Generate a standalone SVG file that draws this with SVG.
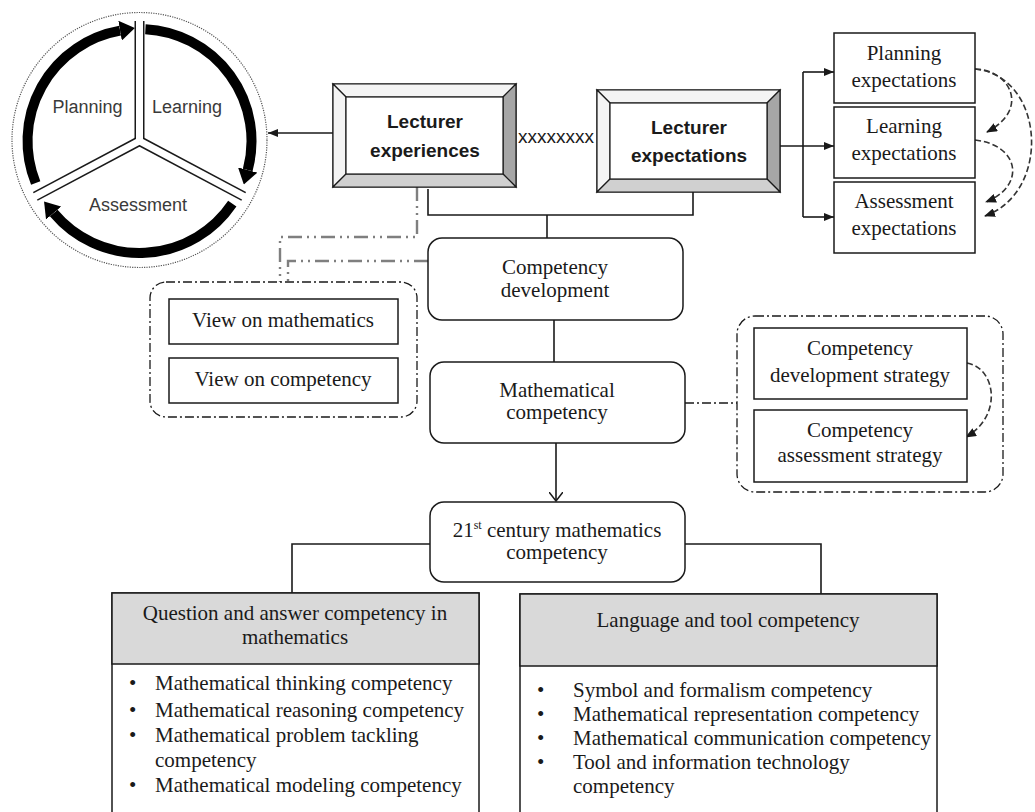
<svg xmlns="http://www.w3.org/2000/svg" width="1035" height="812" viewBox="0 0 1035 812">
<style>
.serif{font-family:"Liberation Serif","Times New Roman",serif;font-size:21px;fill:#1a1a1a;text-anchor:middle}
.lserif{font-family:"Liberation Serif","Times New Roman",serif;font-size:21px;fill:#1a1a1a}
.sans{font-family:"Liberation Sans",Arial,sans-serif;font-size:18px;fill:#3a3a3a;text-anchor:middle}
.bold{font-family:"Liberation Sans",Arial,sans-serif;font-size:19px;font-weight:bold;fill:#1a1a1a;text-anchor:middle}
.box{fill:#fff;stroke:#1a1a1a;stroke-width:1.5}
.rbox{fill:#fff;stroke:#1a1a1a;stroke-width:1.5}
.hdr{fill:#d9d9d9;stroke:#1a1a1a;stroke-width:1.5}
.line{fill:none;stroke:#1a1a1a;stroke-width:1.6}
.dash{fill:none;stroke:#333;stroke-width:1.6;stroke-dasharray:6,3}
.dd{fill:none;stroke:#1a1a1a;stroke-width:1.3;stroke-dasharray:9,3,2,3}
.gdd{fill:none;stroke:#7f7f7f;stroke-width:2.4;stroke-dasharray:14,5,2,5,2,5}
.arc{fill:none;stroke:#000;stroke-width:10}
.bev{stroke:#1a1a1a;stroke-width:1.2}
</style>
<defs>
<marker id="ah" viewBox="0 0 10 8" refX="10" refY="4" markerWidth="10" markerHeight="8" orient="auto" markerUnits="userSpaceOnUse"><path d="M0,0 L10,4 L0,8 z" fill="#1a1a1a"/></marker>
<marker id="ahd" viewBox="0 0 11 9" refX="10" refY="4.5" markerWidth="11" markerHeight="9" orient="auto" markerUnits="userSpaceOnUse"><path d="M0,0 L11,4.5 L0,9 z" fill="#1a1a1a"/></marker>
<marker id="big" viewBox="0 0 15 20" refX="0" refY="10" markerWidth="15" markerHeight="20" orient="auto" markerUnits="userSpaceOnUse"><path d="M0,0 L15,10 L0,20 z" fill="#000"/></marker>
<marker id="open" viewBox="0 0 10 14" refX="9" refY="7" markerWidth="10" markerHeight="14" orient="auto" markerUnits="userSpaceOnUse"><path d="M0,0 L9,7 L0,14" fill="none" stroke="#1a1a1a" stroke-width="1.5"/></marker>
</defs>

<g id="cycle">
<circle cx="139.5" cy="140" r="127.5" fill="none" stroke="#555" stroke-width="1.2" stroke-dasharray="1.2,1.2"/>
<path class="arc" d="M35.7,183 A112,112 0 0 1 120.1,30.7" marker-end="url(#big)"/>
<path class="arc" d="M145.4,29.2 A112,112 0 0 1 247.7,170" marker-end="url(#big)"/>
<path class="arc" d="M232.3,203.6 A112,112 0 0 1 53.7,213" marker-end="url(#big)"/>
<g stroke="#1a1a1a" stroke-width="10" fill="none">
<path d="M139.5,141 V21"/><path d="M139.5,141 L243.7,196.4"/><path d="M139.5,141 L35.3,196.4"/>
</g>
<g stroke="#fff" stroke-width="7" fill="none">
<path d="M139.5,141 V18"/><path d="M139.5,141 L246,197.6"/><path d="M139.5,141 L33,197.6"/>
</g>
<text class="sans" x="87.5" y="113">Planning</text>
<text class="sans" x="187" y="113">Learning</text>
<text class="sans" x="138" y="211">Assessment</text>
</g>

<g id="connectors">
<path class="line" d="M333,133 H268" marker-end="url(#ah)"/>
<path class="line" d="M428,189 V215 H693 V192"/>
<path class="line" d="M547,215 V238" stroke-width="2.4"/>
<path class="line" d="M554,320 V362"/>
<path class="line" d="M556,443 V501" marker-end="url(#open)"/>
<path class="line" d="M430,544 H292 V593"/>
<path class="line" d="M685,544 H821 V594"/>
<path class="line" d="M780,146 H834" marker-end="url(#ah)"/>
<path class="line" d="M803,72 V217"/>
<path class="line" d="M803,72 H834" marker-end="url(#ah)"/>
<path class="line" d="M803,217 H834" marker-end="url(#ah)"/>
<path class="dash" d="M975,69 C1008,69 1032,108 987,132" marker-end="url(#ahd)"/>
<path class="dash" d="M975,69 C1045,76 1052,192 985,216" marker-end="url(#ahd)"/>
<path class="dash" d="M975,140 C1020,145 1026,186 986,202" marker-end="url(#ahd)"/>
<path class="dash" d="M967,363 C996,368 1003,416 966,437" marker-end="url(#ahd)"/>
<path class="gdd" d="M417,187 V237 H280 V282"/>
<path class="gdd" d="M428,261 H288 V282"/>
<path class="dd" d="M685,403 H737"/>
<text class="sans" x="556" y="143" style="font-size:19px;fill:#1a1a1a">xxxxxxxx</text>
</g>

<g id="lecturer-experiences">
<rect x="333" y="84" width="183" height="103" fill="#fff" class="bev"/>
<polygon class="bev" fill="#f4f4f4" points="333,84 516,84 503,97 346,97"/>
<polygon class="bev" fill="#f4f4f4" points="333,84 346,97 346,174 333,187"/>
<polygon class="bev" fill="#a6a6a6" points="516,84 516,187 503,174 503,97"/>
<polygon class="bev" fill="#d0d0d0" points="333,187 516,187 503,174 346,174"/>
<rect x="346" y="97" width="157" height="77" fill="#fff" class="bev"/>
<text class="bold" x="425" y="128">Lecturer</text>
<text class="bold" x="425" y="157">experiences</text>
</g>

<g id="lecturer-expectations">
<rect x="597" y="90" width="183" height="102" fill="#fff" class="bev"/>
<polygon class="bev" fill="#f4f4f4" points="597,90 780,90 767,103 610,103"/>
<polygon class="bev" fill="#f4f4f4" points="597,90 610,103 610,179 597,192"/>
<polygon class="bev" fill="#a6a6a6" points="780,90 780,192 767,179 767,103"/>
<polygon class="bev" fill="#d0d0d0" points="597,192 780,192 767,179 610,179"/>
<rect x="610" y="103" width="157" height="76" fill="#fff" class="bev"/>
<text class="bold" x="689" y="134">Lecturer</text>
<text class="bold" x="689" y="162">expectations</text>
</g>

<g id="planning-expectations">
<rect class="box" x="834" y="33" width="141" height="70"/>
<text class="serif" x="904" y="60">Planning</text>
<text class="serif" x="904" y="87">expectations</text>
</g>
<g id="learning-expectations">
<rect class="box" x="834" y="107" width="141" height="71"/>
<text class="serif" x="904" y="133">Learning</text>
<text class="serif" x="904" y="160">expectations</text>
</g>
<g id="assessment-expectations">
<rect class="box" x="834" y="182" width="141" height="71"/>
<text class="serif" x="904" y="208">Assessment</text>
<text class="serif" x="904" y="235">expectations</text>
</g>

<g id="views-group">
<rect class="dd" x="150" y="282" width="267" height="135" rx="16"/>
<rect class="box" x="169" y="299" width="229" height="45"/>
<text class="serif" x="283" y="327">View on mathematics</text>
<rect class="box" x="169" y="358" width="229" height="45"/>
<text class="serif" x="283" y="386">View on competency</text>
</g>

<g id="competency-development">
<rect class="rbox" x="428" y="238" width="255" height="82" rx="14"/>
<text class="serif" x="555" y="274">Competency</text>
<text class="serif" x="555" y="297">development</text>
</g>

<g id="mathematical-competency">
<rect class="rbox" x="430" y="362" width="255" height="81" rx="14"/>
<text class="serif" x="557" y="397">Mathematical</text>
<text class="serif" x="557" y="419">competency</text>
</g>

<g id="strategy-group">
<rect class="dd" x="737" y="316" width="266" height="176" rx="18"/>
<rect class="box" x="754" y="328" width="213" height="71"/>
<text class="serif" x="860" y="355">Competency</text>
<text class="serif" x="860" y="382">development strategy</text>
<rect class="box" x="754" y="410" width="213" height="72"/>
<text class="serif" x="860" y="437">Competency</text>
<text class="serif" x="860" y="462">assessment strategy</text>
</g>

<g id="century-competency">
<rect class="rbox" x="430" y="502" width="255" height="80" rx="14"/>
<text class="serif" x="557" y="537">21<tspan font-size="12" dy="-8">st</tspan><tspan dy="8"> century mathematics</tspan></text>
<text class="serif" x="557" y="559">competency</text>
</g>

<g id="question-answer">
<rect class="box" x="112" y="593" width="367" height="225"/>
<rect class="hdr" x="112" y="593" width="367" height="71"/>
<text class="serif" x="295" y="620">Question and answer competency in</text>
<text class="serif" x="295" y="644">mathematics</text>
<g class="lserif">
<text x="129" y="690">•</text><text x="155" y="690">Mathematical thinking competency</text>
<text x="129" y="717">•</text><text x="155" y="717">Mathematical reasoning competency</text>
<text x="129" y="742">•</text><text x="155" y="742">Mathematical problem tackling</text>
<text x="155" y="767">competency</text>
<text x="129" y="792">•</text><text x="155" y="792">Mathematical modeling competency</text>
</g>
</g>

<g id="language-tool">
<rect class="box" x="520" y="594" width="417" height="225"/>
<rect class="hdr" x="520" y="594" width="417" height="72"/>
<text class="serif" x="728" y="627">Language and tool competency</text>
<g class="lserif">
<text x="537" y="697">•</text><text x="573" y="697">Symbol and formalism competency</text>
<text x="537" y="721">•</text><text x="573" y="721">Mathematical representation competency</text>
<text x="537" y="745">•</text><text x="573" y="745">Mathematical communication competency</text>
<text x="537" y="769">•</text><text x="573" y="769">Tool and information technology</text>
<text x="573" y="793">competency</text>
</g>
</g>
</svg>
